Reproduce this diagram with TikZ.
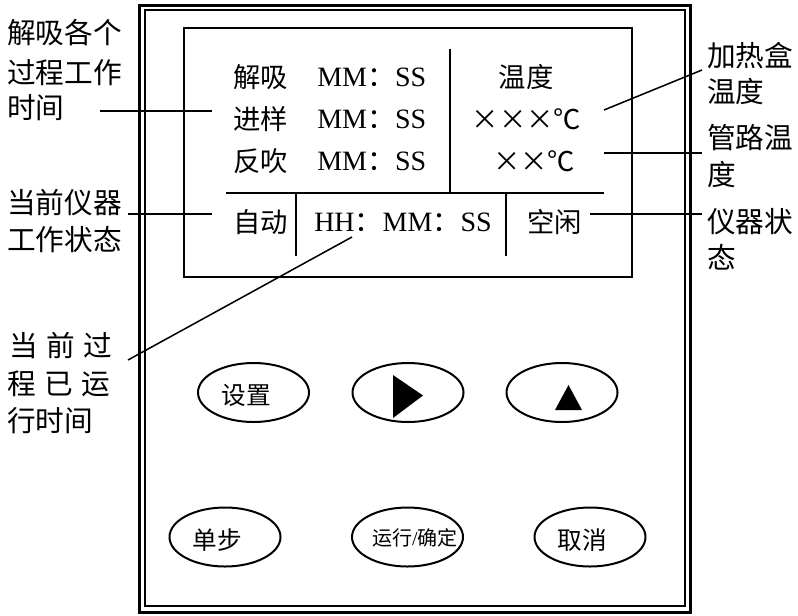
\documentclass[tikz,border=0pt]{standalone}
\usepackage{fontspec}
\usepackage{graphicx}
\setmainfont{Liberation Serif}
\newfontfamily\cjk{Noto Sans CJK SC}
\usetikzlibrary{shapes.geometric}
\newcommand\mulx{\makebox[1em]{×}}
\begin{document}
\begin{tikzpicture}[x=0.75pt,y=-0.75pt,
  lbl/.style={font=\cjk\fontsize{20.5}{20.5}\selectfont, inner sep=0pt, anchor=west},
  olbl/.style={font=\cjk\fontsize{21.5}{21.5}\selectfont, inner sep=0pt, anchor=west},
  lat/.style={font=\fontsize{21}{21}\selectfont, inner sep=0pt, anchor=west},
  ctr/.style={font=\cjk\fontsize{20.5}{20.5}\selectfont, inner sep=0pt, anchor=center},
  btntxt/.style={font=\cjk\fontsize{18.5}{18.5}\selectfont, inner sep=0pt},
  btn/.style={draw, ellipse, line width=1.5pt, inner sep=0pt, minimum width=83.25pt, minimum height=44.25pt},
  lead/.style={line width=1.15pt},
  divl/.style={line width=1.4pt}]
\useasboundingbox (0,0) rectangle (798,615);
% frame
\draw[line width=2.25pt] (139,5) rectangle (690.5,612.5);
\draw[line width=1.5pt] (144.5,10.3) rectangle (684.7,605.7);
% LCD
\draw[line width=1.5pt] (184,28) rectangle (632,277);
\coordinate (vt) at (450,49);
\coordinate (vb) at (450,193);
\coordinate (hl) at (226,193);
\coordinate (hr) at (604,193);
\coordinate (d1t) at (296,193);
\coordinate (d1b) at (296,256);
\coordinate (d2t) at (506,193);
\coordinate (d2b) at (506,256);
\draw[divl] (vt) -- (vb);
\draw[divl] (hl) -- (hr);
\draw[divl] (d1t) -- (d1b);
\draw[divl] (d2t) -- (d2b);
% LCD texts
\node[lbl] (j1) at (233,77.5) {解吸};
\node[lbl] (j2) at (233,119) {进样};
\node[lbl] (j3) at (233,161) {反吹};
\node[lat] (m1) at (317,77.5) {MM{\cjk ：}SS};
\node[lat] (m2) at (317,119) {MM{\cjk ：}SS};
\node[lat] (m3) at (317,161) {MM{\cjk ：}SS};
\node[ctr] (w1) at (526,77.5) {温度};
\node[ctr] (w2) at (526.5,119) {\mulx\mulx\mulx ℃};
\node[ctr] (w3) at (534,161) {\mulx\mulx ℃};
\node[lbl] (s1) at (233,222.5) {自动};
\node[lat] (s2) at (314,222.5) {HH{\cjk ：}MM{\cjk ：}SS};
\node[lbl] (s3) at (527,222.5) {空闲};
% left labels
\node[olbl] (la1) at (7,33) {解吸各个};
\node[olbl] (la2) at (7,72.5) {过程工作};
\node[olbl] (la3) at (7,108) {时间};
\node[olbl] (lb1) at (7,202.5) {当前仪器};
\node[olbl] (lb2) at (7,240) {工作状态};
\node[olbl] (lc1) at (9,346) {当\hspace{0.3em}前\hspace{0.3em}过};
\node[olbl] (lc2) at (7,384) {程\hspace{0.3em}已\hspace{0.3em}运};
\node[olbl] (lc3) at (7,421) {行时间};
% right labels
\node[olbl] (ra1) at (707,56) {加热盒};
\node[olbl] (ra2) at (707,91.5) {温度};
\node[olbl] (rb1) at (707,138) {管路温};
\node[olbl] (rb2) at (707,175) {度};
\node[olbl] (rc1) at (707,221.5) {仪器状};
\node[olbl] (rc2) at (707,257.5) {态};
% leader lines
\coordinate (pa1) at (100,111);
\coordinate (pa2) at (212,111);
\coordinate (pb1) at (128,214);
\coordinate (pb2) at (212,214);
\coordinate (pc1) at (128,360);
\coordinate (pc2) at (352,237);
\coordinate (qa1) at (604,110);
\coordinate (qa2) at (702,70);
\coordinate (qb1) at (604,153);
\coordinate (qb2) at (702,153);
\coordinate (qc1) at (590,214);
\coordinate (qc2) at (702,214);
\draw[lead] (pa1) -- (pa2);
\draw[lead] (pb1) -- (pb2);
\draw[lead] (pc1) -- (pc2);
\draw[lead] (qa1) -- (qa2);
\draw[lead] (qb1) -- (qb2);
\draw[lead] (qc1) -- (qc2);
% buttons
\node[btn] (b1) at (253.5,392.5) {};
\node[btn] (b2) at (408,392.5) {};
\node[btn] (b3) at (562,392.5) {};
\node[btn] (b4) at (225,537) {};
\node[btn] (b5) at (407.5,537) {};
\node[btn] (b6) at (590,537) {};
\node[btntxt] (t1) at (246.5,395) {设置};
\node[btntxt] (t4) at (217.5,540) {单步};
\node[btntxt, font=\cjk\fontsize{15}{15}\selectfont] (t5) at (415,537.5) {运行{\rmfamily /}确定};
\node[btntxt] (t6) at (582.5,540) {取消};
\fill (393,375) -- (423,395.5) -- (393,418) -- cycle;
\fill (568.5,385) -- (582,410) -- (555,410) -- cycle;
\end{tikzpicture}
\end{document}
